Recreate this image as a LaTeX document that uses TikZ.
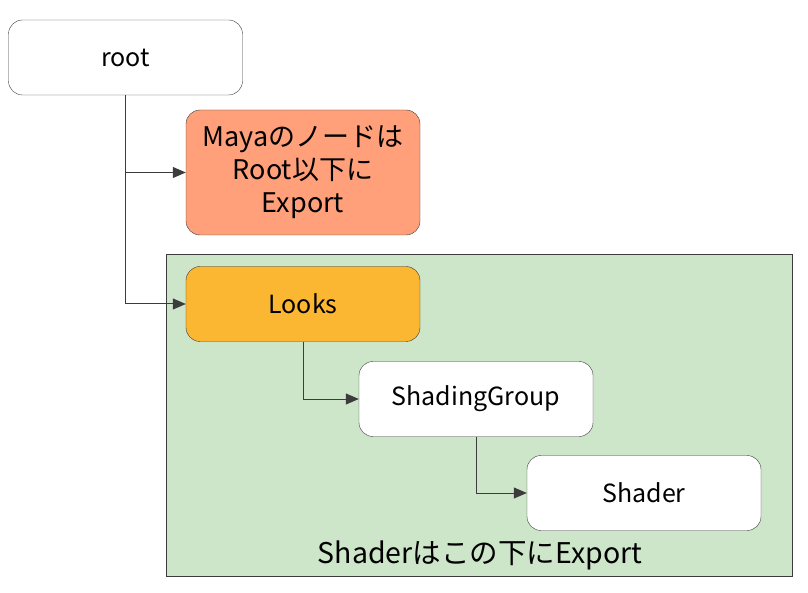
\documentclass[tikz,border=0pt]{standalone}
\usepackage{fontspec}
\setmainfont{Noto Sans CJK JP}
\usetikzlibrary{arrows.meta}

\definecolor{salmon}{RGB}{255,160,122}
\definecolor{amber}{RGB}{251,182,50}
\definecolor{palegreen}{RGB}{205,229,200}
\definecolor{edge}{RGB}{60,60,60}

\begin{document}
\begin{tikzpicture}[x=1pt,y=-1pt,
    box/.style={draw=edge,fill=white,rounded corners=14pt,minimum width=234pt,
      minimum height=75pt,inner sep=0pt,align=center,
      font=\fontsize{25}{29}\selectfont},
    link/.style={draw=edge,line width=1pt,-{Triangle[length=13pt,width=11pt]}}]
      \useasboundingbox (0,0) rectangle (808,593);

      % container for the looks
      \node[draw=edge,fill=palegreen,minimum width=626pt,minimum height=322pt,
        inner sep=0pt,anchor=north west] (group) at (166,254) {};
      \node[font=\fontsize{28.5}{32}\selectfont] (grouplabel) at (480,555)
        {Shaderはこの下にExport};

      \node[box] (root) at (125.5,57.5) {root};
      \node[box,fill=salmon,minimum height=125pt,
        font=\fontsize{27}{33}\selectfont] (maya) at (303,172.5)
        {Mayaのノードは\\Root以下に\\Export};
      \node[box,fill=amber] (looks) at (303,304) {Looks};
      \node[box] (sg) at (476,399) {ShadingGroup};
      \node[box] (shader) at (644,493) {Shader};

      \draw[link] (root.south) |- (maya.west);
      \draw[link] (root.south) |- (looks.west);
      \draw[link] (looks.south) |- (sg.west);
      \draw[link] (sg.south) |- (shader.west);
\end{tikzpicture}
\end{document}
